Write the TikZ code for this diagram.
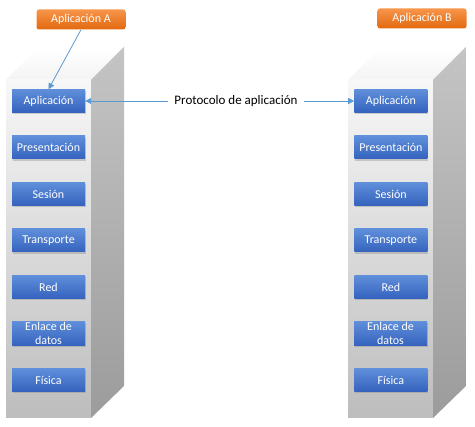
\documentclass[tikz,border=0pt]{standalone}
\usepackage{fontspec}
\setmainfont{Carlito}
\usepackage{xcolor}
\usepackage{tikz}
\usetikzlibrary{arrows.meta, positioning, shadows}

\definecolor{capaTop}{HTML}{5F8FDA}
\definecolor{capaBot}{HTML}{3462BE}
\definecolor{appTop}{HTML}{F7954A}
\definecolor{appBot}{HTML}{E2690F}
\definecolor{flecha}{HTML}{5B9BD5}

\begin{document}
\begin{tikzpicture}[
  x=1pt, y=1pt,
  capa/.style={top color=capaTop, bottom color=capaBot, text=white,
    minimum width=73pt, minimum height=23pt, inner sep=1pt, align=center,
    font=\fontsize{12}{14}\selectfont,
    drop shadow={shadow xshift=0.6pt, shadow yshift=-1.6pt, opacity=0.35}},
  app/.style={rounded corners=2.5pt, top color=appTop, bottom color=appBot,
    text=white, minimum width=89pt, minimum height=20pt, inner sep=1pt,
    font=\fontsize{12}{14}\selectfont},
  conn/.style={flecha, line width=0.8pt, -{Triangle[length=6pt, width=6pt]}},
  frente/.style={top color=gray!6, bottom color=gray!52},
  lado/.style={top color=gray!46, bottom color=gray!78},
  techo/.style={top color=white, bottom color=gray!9}
]
  \useasboundingbox (0,0) rectangle (475,-427);

  % columnas (cubos)
  \shade[techo] (6,-80) -- (91,-80) -- (124,-47) -- (39,-47) -- cycle;
  \shade[frente] (6,-80) rectangle (91,-418);
  \shade[lado] (91,-80) -- (124,-47) -- (124,-386) -- (91,-418) -- cycle;

  \shade[techo] (348,-80) -- (433,-80) -- (466,-47) -- (381,-47) -- cycle;
  \shade[frente] (348,-80) rectangle (433,-418);
  \shade[lado] (433,-80) -- (466,-47) -- (466,-386) -- (433,-418) -- cycle;

  % pila A
  \node[capa] (a1) at (48.5,-101) {Aplicación};
  \node[capa] (a2) at (48.5,-147.5) {Presentación};
  \node[capa] (a3) at (48.5,-194) {Sesión};
  \node[capa] (a4) at (48.5,-240.5) {Transporte};
  \node[capa] (a5) at (48.5,-287) {Red};
  \node[capa] (a6) at (48.5,-333.5) {Enlace de\\datos};
  \node[capa] (a7) at (48.5,-380) {Física};

  % pila B
  \node[capa, right=269pt of a1] (b1) {Aplicación};
  \node[capa, right=269pt of a2] (b2) {Presentación};
  \node[capa, right=269pt of a3] (b3) {Sesión};
  \node[capa, right=269pt of a4] (b4) {Transporte};
  \node[capa, right=269pt of a5] (b5) {Red};
  \node[capa, at={(a6.center)}, xshift=342pt] (b6) {Enlace de\\datos};
  \node[capa, right=269pt of a7] (b7) {Física};

  \node[app] (appA) at (81,-19.5) {Aplicación A};
  \node[app] (appB) at (422,-18.5) {Aplicación B};

  \node[font=\fontsize{13}{15}\selectfont, inner xsep=6pt] (proto) at (236,-101)
    {Protocolo de aplicación};

  \draw[conn] (appA.south) -- (a1.north);
  \draw[conn] (proto.west) -- (a1.east);
  \draw[conn] (proto.east) -- (b1.west);
\end{tikzpicture}
\end{document}
